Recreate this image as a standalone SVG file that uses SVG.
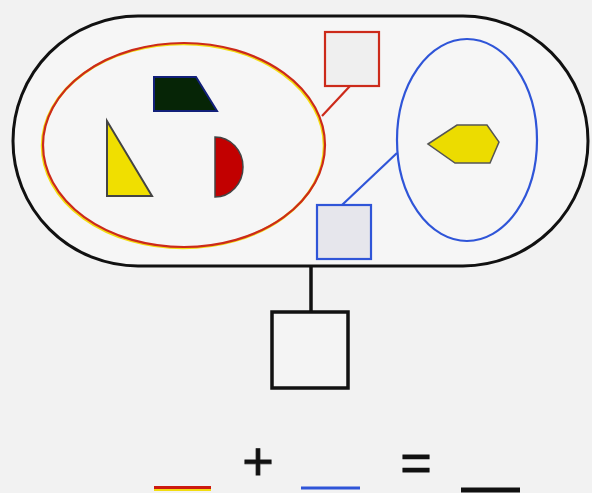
<svg xmlns="http://www.w3.org/2000/svg" width="592" height="493" viewBox="0 0 592 493">
<style>
.red{stroke:#cc2a1a;fill:none;stroke-width:2.2}
.yel{stroke:#f2dc10;fill:none;stroke-width:2.5}
.blue{stroke:#2f55d8;fill:none;stroke-width:2.2}
.blk{stroke:#111;fill:none;stroke-width:3.5}
.sym{font-family:"Liberation Sans",Arial,sans-serif;font-size:54px;fill:#111;stroke:#111;stroke-width:0.8;text-anchor:middle}
</style>
<rect width="592" height="493" fill="#f2f2f2"/>
<g id="container">
<rect x="13" y="16" width="575" height="250" rx="125" ry="125" fill="#f6f6f6" stroke="#111" stroke-width="3"/>
</g>
<g id="red-group">
<ellipse cx="183" cy="146" rx="141" ry="102" class="yel"/>
<ellipse cx="184" cy="145" rx="141" ry="102" class="red"/>
</g>
<g id="trapezoid"><polygon points="154,77 196,77 217,111 154,111" fill="#062506" stroke="#12207a" stroke-width="2"/></g>
<g id="triangle"><polygon points="107,121 107,196 152,196" fill="#f0df00" stroke="#444" stroke-width="2"/></g>
<g id="halfdisc"><path d="M215,137 A28,30 0 0 1 215,197 Z" fill="#c20000" stroke="#444" stroke-width="1.5"/></g>
<g id="red-square"><rect x="325" y="32" width="54" height="54" class="red" style="fill:#efefef"/></g>
<g id="blue-group"><ellipse cx="467" cy="140" rx="70" ry="101" class="blue"/></g>
<g id="hexagon"><polygon points="428,144 457,125 487,125 499,142 490,163 455,163" fill="#ecdc00" stroke="#555" stroke-width="1.5"/></g>
<g id="blue-square"><rect x="317" y="205" width="54" height="54" class="blue" style="fill:#e6e6ec"/></g>
<g id="result-square"><rect x="272" y="312" width="76" height="76" class="blk" style="fill:#f4f4f4"/></g>
<g id="connectors">
<line x1="350" y1="86" x2="322" y2="116" class="red"/>
<line x1="342" y1="205" x2="397" y2="153" class="blue"/>
<line x1="311" y1="266" x2="311" y2="312" class="blk"/>
</g>
<g id="legend">
<line x1="154" y1="489" x2="211" y2="489" stroke="#f2dc10" stroke-width="4"/>
<line x1="154" y1="487.5" x2="211" y2="487.5" stroke="#cc1a10" stroke-width="3"/>
<line x1="301" y1="488" x2="360" y2="488" stroke="#2f55d8" stroke-width="3"/>
<line x1="461" y1="490" x2="520" y2="490" stroke="#111" stroke-width="5"/>
<text x="258" y="480" class="sym">+</text>
<text x="416" y="481" class="sym">=</text>
</g>
</svg>
